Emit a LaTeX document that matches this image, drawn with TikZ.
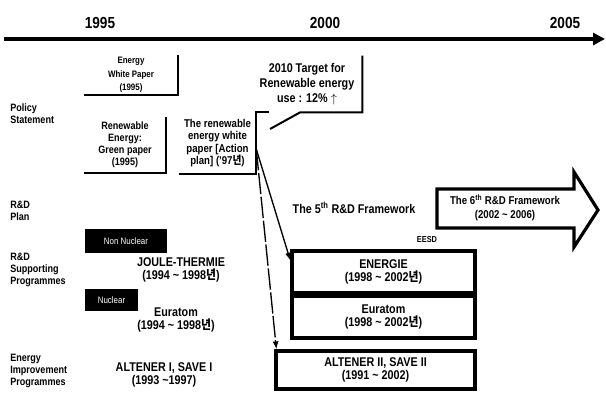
\documentclass[tikz,border=0pt]{standalone}
\usepackage{fontspec}
\setmainfont{Liberation Sans}[FakeStretch=0.85]
\newfontfamily\krfont{Noto Sans CJK KR}[FakeStretch=0.85]
\usetikzlibrary{arrows.meta,calc}
\newcommand{\nyeon}{{\krfont 년}}
\tikzset{
  year/.style={font=\fontsize{12}{14}\selectfont\bfseries},
  rowlabel/.style={anchor=west, align=left, inner sep=0pt, font=\fontsize{8}{9}\selectfont\bfseries},
  paper/.style={align=center, inner sep=0pt},
  paperline/.style={line width=1.5pt},
  prog/.style={align=center, inner sep=0pt, font=\fontsize{9.5}{9.5}\selectfont\bfseries},
  progbox/.style={prog, draw, line width=2.4pt},
  blackbox/.style={fill=black, text=white, inner sep=0pt, font=\fontsize{7}{8}\selectfont},
  link/.style={line width=1pt, -{Latex[length=6pt,width=4.5pt]}},
}

\begin{document}
\begin{tikzpicture}[x=0.75pt, y=-0.75pt]
\useasboundingbox (0,0) rectangle (606,394);
\coordinate (t0) at (4,39);
\coordinate (t1) at (605,39);
\draw[line width=2.4pt, -{Triangle[length=9pt,width=9pt]}] (t0) -- (t1);
\path (100,23) node[year] (y95) {1995};
\path (325,23) node[year] (y00) {2000};
\path (565,23) node[year] (y05) {2005};

\path (10,114) node[rowlabel] (lpolicy) {Policy\\Statement};
\path (10,211) node[rowlabel] (lplan) {R\&D\\Plan};
\path (10,270) node[rowlabel] (lsupport) {R\&D\\Supporting\\Programmes};
\path (10,371) node[rowlabel] (limprove) {Energy\\Improvement\\Programmes};

\path (131,75) node[paper, minimum width=70.5pt, minimum height=30pt,
    font=\fontsize{7}{10}\selectfont\bfseries] (wp) {Energy\\White Paper\\(1995)};
\draw[paperline] (wp.north east) -- (wp.south east) -- (wp.south west);
\path (125,145) node[paper, minimum width=61.5pt, minimum height=42pt,
    font=\fontsize{8}{9}\selectfont\bfseries] (gp) {Renewable\\Energy:\\Green paper\\(1995)};
\draw[paperline] (gp.north east) -- (gp.south east) -- (gp.south west);
\path (217.5,143) node[paper, minimum width=57.75pt, minimum height=46.5pt,
    font=\fontsize{8.5}{9.4}\selectfont\bfseries] (ap) {The renewable\\energy white\\paper [Action\\plan] ('97\nyeon)};
\draw[paperline] ($(ap.north east)+(13,0)$) -- (ap.north east) -- (ap.south east) -- (ap.south west);
\path (307,84) node[paper, minimum width=82.5pt, minimum height=42pt,
    font=\fontsize{9.5}{11}\selectfont\bfseries] (tg) {2010 Target for\\Renewable energy\\use : 12\% $\uparrow$};
\coordinate (tgtip) at (270,129);
\draw[paperline] (tg.north east) -- (tg.south east) -- ($(tg.south east)+(-62,0)$) -- (tgtip);

\path (126,241) node[blackbox, minimum width=61.5pt, minimum height=18pt] (nonnuc) {Non Nuclear};
\path (111.5,300) node[blackbox, minimum width=39.75pt, minimum height=16.5pt] (nuc) {Nuclear};
\path (181,270) node[prog] (joule) {JOULE-THERMIE\\(1994 \textasciitilde{} 1998\nyeon)};
\path (176,320) node[prog] (euratom1) {Euratom\\(1994 \textasciitilde{} 1998\nyeon)};
\path (164,375) node[prog] (altener1) {ALTENER I, SAVE I\\(1993 \textasciitilde{}1997)};

\path (354,208) node[prog] (fifth) {The 5\textsuperscript{th} R\&D Framework};
\path (427,240) node[font=\fontsize{6.5}{7}\selectfont\bfseries, inner sep=0pt] (eesd) {EESD};
\draw[line width=2.4pt] (437,189) -- (574,189) -- (574,172) -- (598,210) -- (574,247) -- (574,228) -- (437,228) -- cycle;
\path (505,208) node[prog, font=\fontsize{8.5}{11}\selectfont\bfseries] (sixth) {The 6\textsuperscript{th} R\&D Framework\\(2002 \textasciitilde{} 2006)};

\path (383.5,272) node[progbox, minimum width=137.25pt, minimum height=31.5pt] (energie) {ENERGIE\\(1998 \textasciitilde{} 2002\nyeon)};
\path (383.5,317) node[progbox, minimum width=137.25pt, minimum height=31.5pt] (euratom2) {Euratom\\(1998 \textasciitilde{} 2002\nyeon)};
\path (375.5,370) node[progbox, minimum width=149.25pt, minimum height=28.5pt] (altener2) {ALTENER II, SAVE II\\(1991 \textasciitilde{} 2002)};

\coordinate (apout) at ($(ap.east)+(0,6)$);
\draw[link] (apout) -- ($(energie.north west)!0.25!(energie.south west)$);
\draw[link, dash pattern=on 16pt off 2pt] (apout) -- ($(altener2.north west)+(2,0)$);
\end{tikzpicture}
\end{document}
